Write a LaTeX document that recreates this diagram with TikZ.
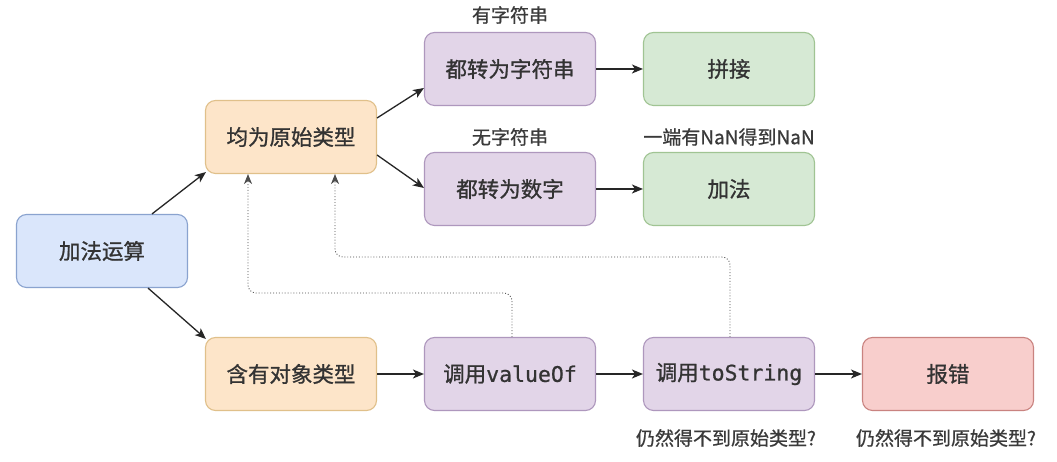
\documentclass[tikz,border=0pt]{standalone}
\usepackage{fontspec}
\newfontfamily\cjk{Noto Sans CJK SC}[FakeBold=1]
\newfontfamily\cjkl{Noto Sans CJK SC}[FakeBold=0.8]
\newfontfamily\mono{DejaVu Sans Mono}[FakeBold=0.8]
\usetikzlibrary{arrows.meta}
\definecolor{bluef}{HTML}{DAE6FB}
\definecolor{blued}{HTML}{8AA3CF}
\definecolor{orangef}{HTML}{FDE5C9}
\definecolor{oranged}{HTML}{E0C08A}
\definecolor{purplef}{HTML}{E2D5E8}
\definecolor{purpled}{HTML}{AE97BD}
\definecolor{greenf}{HTML}{D6E9D4}
\definecolor{greend}{HTML}{A0C493}
\definecolor{redf}{HTML}{F8CECC}
\definecolor{redd}{HTML}{C98380}
\definecolor{txt}{HTML}{333333}
\definecolor{lbl}{HTML}{3A3A3A}
\begin{document}
\begin{tikzpicture}[x=1pt,y=1pt,
  box/.style={rounded corners=10pt, minimum width=171pt, minimum height=73pt,
    line width=1.1pt, inner sep=0pt, text=txt, font=\cjk\fontsize{21.5}{25}\selectfont},
  bluebox/.style={box, fill=bluef, draw=blued},
  orangebox/.style={box, fill=orangef, draw=oranged},
  purplebox/.style={box, fill=purplef, draw=purpled},
  greenbox/.style={box, fill=greenf, draw=greend},
  redbox/.style={box, fill=redf, draw=redd},
  lab/.style={text=lbl, inner sep=0pt, font=\cjkl\fontsize{19}{22}\selectfont},
  arr/.style={line width=1.3pt, draw=black!85, -{Stealth[length=11pt,width=9pt,inset=3pt]}},
  dotarr/.style={line width=0.9pt, draw=black!70, dotted, rounded corners=8pt,
    -{Stealth[length=10pt,width=8pt,inset=3pt]}},
]
\useasboundingbox (0,0) rectangle (1057,462);
\fill[white] (0,0) rectangle (1057,462);

\node[bluebox] (add) at (102,211) {加法运算};
\node[orangebox] (prim) at (291,325) {均为原始类型};
\node[purplebox] (str) at (510,393) {都转为字符串};
\node[greenbox] (join) at (729,393) {拼接};
\node[purplebox] (num) at (510,273) {都转为数字};
\node[greenbox] (plus) at (729,273) {加法};
\node[orangebox] (obj) at (291,88) {含有对象类型};
\node[purplebox] (val) at (510,88) {调用{\mono valueOf}};
\node[purplebox] (tos) at (729,88) {调用{\mono toString}};
\node[redbox] (err) at (948,88) {报错};

\node[lab] (l1) at (510,447) {有字符串};
\node[lab] (l2) at (510,325) {无字符串};
\node[lab] (l3) at (729,325) {一端有NaN得到NaN};
\node[lab] (l4) at (726,24) {仍然得不到原始类型?};
\node[lab] (l5) at (946,24) {仍然得不到原始类型?};

\draw[arr] ([xshift=50pt]add.north) -- ([xshift=1pt,yshift=2pt]prim.south west);
\draw[arr] ([xshift=46pt]add.south) -- ([xshift=1pt,yshift=-2pt]obj.north west);
\draw[arr] ([yshift=19pt]prim.east) -- ([yshift=-19pt]str.west);
\draw[arr] ([yshift=-18pt]prim.east) -- ([yshift=1pt]num.west);
\draw[arr] (str) -- (join);
\draw[arr] (num) -- (plus);
\draw[arr] (obj) -- (val);
\draw[arr] (val) -- (tos);
\draw[arr] (tos) -- (err);

\coordinate (d1) at (248,169);
\coordinate (d2) at (335,205);
\draw[dotarr] ([xshift=2pt]val.north) |- (d1) -- (d1 |- prim.south);
\draw[dotarr] ([xshift=1pt]tos.north) |- (d2) -- (d2 |- prim.south);
\end{tikzpicture}
\end{document}
